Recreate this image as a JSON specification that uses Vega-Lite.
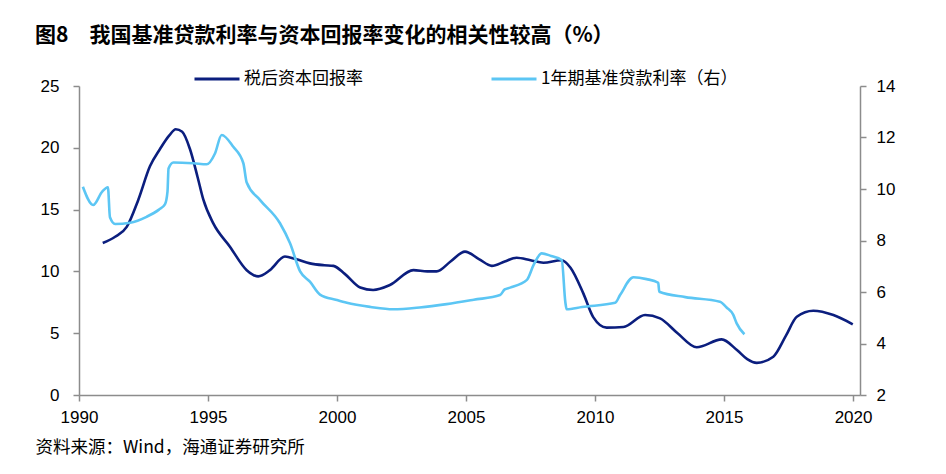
{
  "$schema": "https://vega.github.io/schema/vega-lite/v6.json",
  "autosize": "none",
  "width": 781,
  "height": 309,
  "padding": {"left": 79, "top": 86, "right": 86, "bottom": 79},
  "background": "white",
  "config": {
    "view": {"stroke": null},
    "axis": {"grid": false, "domainColor": "#8c8c8c", "tickColor": "#8c8c8c", "domainWidth": 1.5, "tickWidth": 1.5, "tickSize": 6, "labelFont": "Liberation Sans", "labelFontSize": 17, "labelColor": "#000000"}
  },
  "title": {
    "text": "图8\u2003我国基准贷款利率与资本回报率变化的相关性较高（%）",
    "anchor": "start",
    "frame": "group",
    "dx": -44,
    "offset": 9,
    "font": "Noto Sans CJK SC",
    "fontSize": 21,
    "fontWeight": "bold",
    "color": "#000000"
  },
  "datasets": {
    "roe": [
      {"year": 1990.92, "roe": 12.3},
      {"year": 1991.4, "roe": 12.8},
      {"year": 1991.85, "roe": 13.6},
      {"year": 1992.3, "roe": 15.8},
      {"year": 1992.75, "roe": 18.5},
      {"year": 1993.14, "roe": 19.9},
      {"year": 1993.5, "roe": 21.0},
      {"year": 1993.75, "roe": 21.5},
      {"year": 1994.0, "roe": 21.3},
      {"year": 1994.3, "roe": 19.9},
      {"year": 1994.6, "roe": 17.6},
      {"year": 1994.82, "roe": 15.8},
      {"year": 1995.2, "roe": 13.9},
      {"year": 1995.85, "roe": 12.0},
      {"year": 1996.5, "roe": 10.1},
      {"year": 1996.95, "roe": 9.6},
      {"year": 1997.4, "roe": 10.1},
      {"year": 1997.98, "roe": 11.2},
      {"year": 1998.4, "roe": 11.0},
      {"year": 1998.95, "roe": 10.65},
      {"year": 1999.5, "roe": 10.5},
      {"year": 1999.86, "roe": 10.45},
      {"year": 2000.3, "roe": 9.8},
      {"year": 2000.9, "roe": 8.7},
      {"year": 2001.4, "roe": 8.5},
      {"year": 2002.05, "roe": 8.9},
      {"year": 2002.96, "roe": 10.1},
      {"year": 2003.5, "roe": 10.0},
      {"year": 2003.86, "roe": 10.0},
      {"year": 2004.4, "roe": 10.8},
      {"year": 2004.96, "roe": 11.6},
      {"year": 2005.5, "roe": 11.0},
      {"year": 2006.0, "roe": 10.45},
      {"year": 2006.5, "roe": 10.8},
      {"year": 2006.96, "roe": 11.1},
      {"year": 2007.5, "roe": 10.9},
      {"year": 2008.0, "roe": 10.7},
      {"year": 2008.7, "roe": 10.9},
      {"year": 2009.05, "roe": 10.3},
      {"year": 2009.55, "roe": 8.2},
      {"year": 2009.93, "roe": 6.3},
      {"year": 2010.45, "roe": 5.45},
      {"year": 2011.1, "roe": 5.5},
      {"year": 2011.94, "roe": 6.47},
      {"year": 2012.52, "roe": 6.2},
      {"year": 2013.2, "roe": 5.0},
      {"year": 2013.94, "roe": 3.86},
      {"year": 2014.91, "roe": 4.5},
      {"year": 2015.5, "roe": 3.64},
      {"year": 2015.9, "roe": 2.9},
      {"year": 2016.27, "roe": 2.6},
      {"year": 2016.91, "roe": 3.1},
      {"year": 2017.4, "roe": 4.8},
      {"year": 2017.82, "roe": 6.33},
      {"year": 2018.46, "roe": 6.82},
      {"year": 2019.24, "roe": 6.47},
      {"year": 2019.99, "roe": 5.72}
    ],
    "rate": [
      {"year": 1990.15, "rate": 10.09},
      {"year": 1990.55, "rate": 9.38},
      {"year": 1990.9, "rate": 9.9},
      {"year": 1991.12, "rate": 10.07},
      {"year": 1991.2, "rate": 8.9},
      {"year": 1991.4, "rate": 8.64},
      {"year": 1991.98, "rate": 8.69},
      {"year": 1992.62, "rate": 8.92},
      {"year": 1993.1, "rate": 9.2},
      {"year": 1993.33, "rate": 9.4},
      {"year": 1993.43, "rate": 9.9},
      {"year": 1993.47, "rate": 10.8},
      {"year": 1993.66, "rate": 11.03},
      {"year": 1994.43, "rate": 11.0},
      {"year": 1994.95, "rate": 10.96},
      {"year": 1995.27, "rate": 11.38},
      {"year": 1995.53, "rate": 12.1},
      {"year": 1995.98, "rate": 11.64},
      {"year": 1996.37, "rate": 11.0},
      {"year": 1996.5, "rate": 10.25},
      {"year": 1997.02, "rate": 9.57},
      {"year": 1997.79, "rate": 8.67},
      {"year": 1998.18, "rate": 7.89},
      {"year": 1998.57, "rate": 6.8},
      {"year": 1998.95, "rate": 6.4},
      {"year": 1999.34, "rate": 5.9},
      {"year": 1999.99, "rate": 5.69},
      {"year": 2000.38, "rate": 5.58},
      {"year": 2001.3, "rate": 5.42},
      {"year": 2002.18, "rate": 5.33},
      {"year": 2003.2, "rate": 5.4},
      {"year": 2004.25, "rate": 5.53},
      {"year": 2005.3, "rate": 5.7},
      {"year": 2006.32, "rate": 5.88},
      {"year": 2006.5, "rate": 6.1},
      {"year": 2006.71, "rate": 6.17},
      {"year": 2007.36, "rate": 6.47},
      {"year": 2007.62, "rate": 7.05},
      {"year": 2007.93, "rate": 7.5},
      {"year": 2008.3, "rate": 7.4},
      {"year": 2008.71, "rate": 7.24},
      {"year": 2008.85, "rate": 5.6},
      {"year": 2008.9, "rate": 5.33},
      {"year": 2009.5, "rate": 5.42},
      {"year": 2010.78, "rate": 5.58},
      {"year": 2010.97, "rate": 5.88},
      {"year": 2011.49, "rate": 6.57},
      {"year": 2012.0, "rate": 6.5},
      {"year": 2012.45, "rate": 6.36},
      {"year": 2012.49, "rate": 6.01},
      {"year": 2013.5, "rate": 5.8},
      {"year": 2014.84, "rate": 5.62},
      {"year": 2015.1, "rate": 5.4},
      {"year": 2015.36, "rate": 5.11},
      {"year": 2015.49, "rate": 4.78},
      {"year": 2015.79, "rate": 4.36}
    ]
  },
  "encoding": {
    "x": {
      "field": "year",
      "type": "quantitative",
      "scale": {"domain": [1990, 2020.27], "nice": false, "zero": false},
      "axis": {
        "values": [1990, 1995, 2000, 2005, 2010, 2015, 2020],
        "format": "d",
        "labelPadding": 8,
        "labelFlush": false,
        "labelOverlap": false,
        "title": "资料来源：Wind，海通证券研究所",
        "titleFont": "Noto Sans CJK SC",
        "titleFontSize": 17.5,
        "titleFontWeight": "normal",
        "titleColor": "#000000",
        "titleAnchor": "start",
        "titleAlign": "left",
        "titleBaseline": "middle",
        "titleX": -44,
        "titleY": 52
      }
    }
  },
  "layer": [
    {
      "data": {"name": "roe"},
      "mark": {"type": "line", "interpolate": "monotone", "strokeWidth": 2.6},
      "encoding": {
        "y": {
          "field": "roe",
          "type": "quantitative",
          "scale": {"domain": [0, 25], "nice": false},
          "axis": {"orient": "left", "values": [0, 5, 10, 15, 20, 25], "title": null, "labelPadding": 14}
        },
        "color": {
          "datum": "税后资本回报率",
          "type": "nominal",
          "scale": {"domain": ["税后资本回报率", "1年期基准贷款利率（右）"], "range": ["#0B1E7E", "#5CC6F4"]},
          "legend": {
            "title": null,
            "orient": "none",
            "direction": "horizontal",
            "legendX": 114,
            "legendY": -31,
            "symbolType": "stroke",
            "symbolSize": 2025,
            "symbolStrokeWidth": 3,
            "labelFont": "Noto Sans CJK SC",
            "labelFontSize": 17,
            "labelColor": "#000000",
            "labelOffset": 3,
            "columnPadding": 122,
            "labelLimit": 400
          }
        }
      }
    },
    {
      "data": {"name": "rate"},
      "mark": {"type": "line", "interpolate": "monotone", "strokeWidth": 2.6},
      "encoding": {
        "y": {
          "field": "rate",
          "type": "quantitative",
          "scale": {"domain": [2, 14], "nice": false, "zero": false},
          "axis": {"orient": "right", "values": [2, 4, 6, 8, 10, 12, 14], "title": null, "labelPadding": 10}
        },
        "color": {"datum": "1年期基准贷款利率（右）", "type": "nominal"}
      }
    }
  ],
  "resolve": {"scale": {"y": "independent"}}
}
